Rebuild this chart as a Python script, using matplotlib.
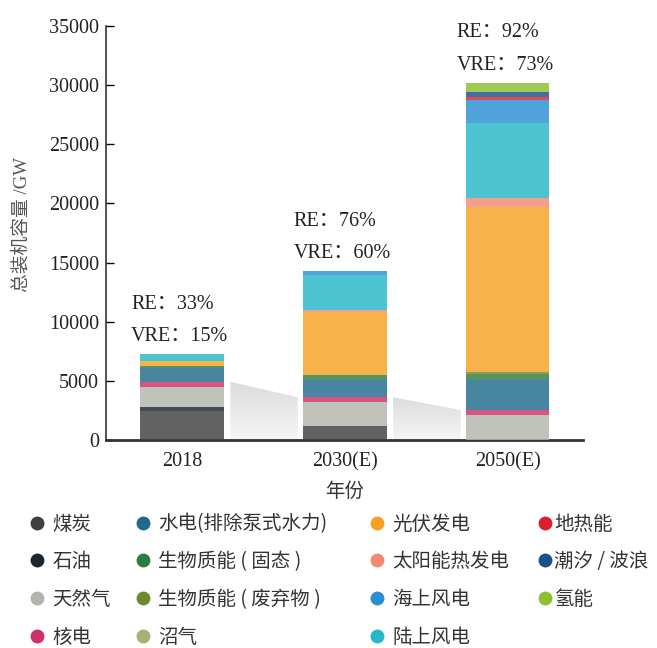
import numpy as np
import matplotlib.pyplot as plt
from matplotlib.lines import Line2D
from matplotlib.patches import Polygon
from matplotlib.colors import LinearSegmentedColormap

plt.rcParams['font.family'] = ['Noto Sans CJK SC', 'DejaVu Sans']
SERIF = ['Liberation Serif', 'Noto Sans CJK SC']

years = ['2018', '2030(E)', '2050(E)']
re_share = ['33%', '76%', '92%']
vre_share = ['15%', '60%', '73%']

# 装机容量 / GW（自下而上堆叠）
coal       = [2450, 1210, 0]
oil        = [350, 0, 0]
gas        = [1700, 2030, 2110]
nuclear    = [420, 370, 420]
hydro      = [1200, 1470, 2540]
bio_solid  = [100, 420, 500]
bio_waste  = [0, 0, 200]
biogas     = [0, 0, 0]
pv         = [480, 5300, 13950]
csp        = [0, 170, 700]
onshore    = [560, 2960, 6340]
offshore   = [0, 350, 1970]
geothermal = [0, 0, 280]
tidal      = [0, 0, 420]
hydrogen   = [0, 0, 760]

series = {
    '煤炭': (coal, '#3f3f3f'),
    '石油': (oil, '#1c2530'),
    '天然气': (gas, '#b2b6aa'),
    '核电': (nuclear, '#cf2f6a'),
    '水电(排除泵式水力)': (hydro, '#1f6a8c'),
    '生物质能 ( 固态 )': (bio_solid, '#2f7d3e'),
    '生物质能 ( 废弃物 )': (bio_waste, '#6b8a2e'),
    '沼气': (biogas, '#a4b273'),
    '光伏发电': (pv, '#f7a124'),
    '太阳能热发电': (csp, '#f08a72'),
    '陆上风电': (onshore, '#27b8c8'),
    '海上风电': (offshore, '#2a8ed4'),
    '地热能': (geothermal, '#d8202e'),
    '潮汐 / 波浪': (tidal, '#1b4f8c'),
    '氢能': (hydrogen, '#8dbf2e'),
}

fig = plt.figure(figsize=(6.57, 6.48), dpi=100)
ax = fig.add_axes([0.1613, 0.321, 0.726, 0.639])

x = np.arange(len(years))
w = 0.515
bottom = np.zeros(len(years))
for name, (vals, col) in series.items():
    ax.bar(x, vals, w, bottom=bottom, color=col, alpha=0.82, linewidth=0, zorder=3)
    bottom += np.array(vals)
totals = bottom

# 非可再生部分的灰色过渡阴影
non_re = np.array(coal) + np.array(oil) + np.array(gas) + np.array(nuclear)
cmap = LinearSegmentedColormap.from_list('shade', ['#f6f6f6', '#dcdcdc'])
for i in range(len(years) - 1):
    x0 = x[i] + w / 2 + 0.04
    x1 = x[i + 1] - w / 2 - 0.03
    top = max(non_re[i], non_re[i + 1])
    poly = Polygon([[x0, 0], [x0, non_re[i]], [x1, non_re[i + 1]], [x1, 0]],
                   closed=True, facecolor='none', edgecolor='none')
    ax.add_patch(poly)
    im = ax.imshow(np.linspace(0, 1, 100).reshape(-1, 1), cmap=cmap,
                   extent=[x0, x1, 0, top], origin='lower', aspect='auto', zorder=2)
    im.set_clip_path(poly)

for i in range(len(years)):
    ax.text(x[i] - w / 2 - 0.055, totals[i] + 1450, 'VRE：' + vre_share[i],
            ha='left', va='center', fontsize=14.5, family=SERIF, color='#222222')
    ax.text(x[i] - w / 2 - 0.055, totals[i] + 4230, 'RE：' + re_share[i],
            ha='left', va='center', fontsize=14.5, family=SERIF, color='#222222')

ax.set_xlim(-0.466, 2.463)
ax.set_ylim(0, 35000)
ax.set_yticks(np.arange(0, 35001, 5000))
ax.set_xticks(x)
ax.set_xticklabels(years)
ax.tick_params(axis='y', direction='in', length=6, width=1, pad=5,
               labelsize=14.5, labelfontfamily='Liberation Serif', labelcolor='#222222')
ax.tick_params(axis='x', length=0, pad=9, labelsize=14.5,
               labelfontfamily='Liberation Serif', labelcolor='#222222')
for s in ['top', 'right']:
    ax.spines[s].set_visible(False)
ax.spines['left'].set_linewidth(1.2)
ax.spines['left'].set_color('#333333')
ax.spines['bottom'].set_linewidth(2)
ax.spines['bottom'].set_color('#333333')

ax.set_ylabel('总装机容量 /GW', fontsize=13.5, color='#555555', family=SERIF)
ax.yaxis.set_label_coords(-0.158, 0.52)
ax.set_xlabel('年份', fontsize=14, color='#333333')
ax.xaxis.set_label_coords(0.5, -0.099)

# 图例：按列排列
columns = [
    ['煤炭', '石油', '天然气', '核电'],
    ['水电(排除泵式水力)', '生物质能 ( 固态 )', '生物质能 ( 废弃物 )', '沼气'],
    ['光伏发电', '太阳能热发电', '海上风电', '陆上风电'],
    ['地热能', '潮汐 / 波浪', '氢能'],
]
col_left = [29, 135, 369, 537]
col_pad = [0.4, 0.4, 0.4, 0.1]
for names, left, pad in zip(columns, col_left, col_pad):
    handles = [Line2D([], [], marker='o', linestyle='none', markersize=10,
                      markeredgewidth=0, color=series[n][1]) for n in names]
    fig.legend(handles, names, loc='upper left', bbox_to_anchor=(left / 657, 0.2075),
               frameon=False, borderpad=0, borderaxespad=0, handlelength=0.8,
               handletextpad=pad, labelspacing=0.86, fontsize=14, labelcolor='#333333')

fig.savefig('out.png', dpi=100)
